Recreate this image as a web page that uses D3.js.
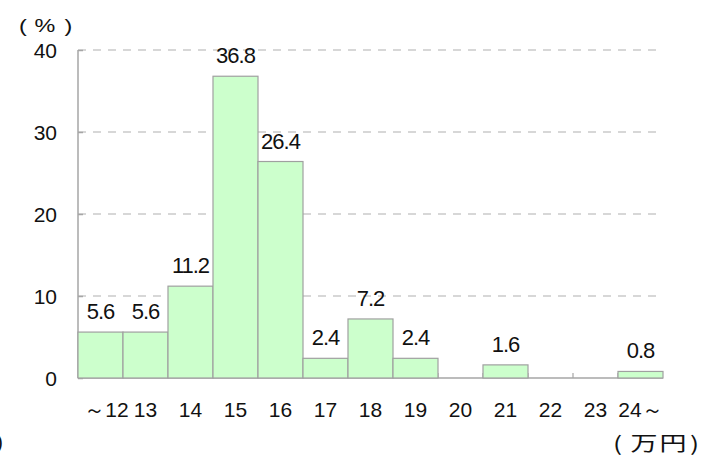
<!DOCTYPE html>
<html lang="ja">
<head>
<meta charset="UTF-8">
<title>分布</title>
<script src="https://d3js.org/d3.v7.min.js"></script>
<style>
  body { margin: 0; background: #fff; }
  svg { display: block; }
  .lbl { font-family: "Liberation Sans", Arial, sans-serif; fill: #111; }
  .cjk { font-family: "Noto Sans CJK JP", sans-serif; fill: #111; }
</style>
</head>
<body>
<div id="chart"></div>
<script>
// categories (万円) and shares (%)
const categories = ["～12", "13", "14", "15", "16", "17", "18", "19", "20", "21", "22", "23", "24～"];
const values = [5.6, 5.6, 11.2, 36.8, 26.4, 2.4, 7.2, 2.4, 0, 1.6, 0, 0, 0.8];
const yTicks = [0, 10, 20, 30, 40];

const width = 713, height = 456;
const plotL = 78, plotR = 663, plotT = 50, plotB = 378;

const svg = d3.select("#chart").append("svg")
  .attr("width", width)
  .attr("height", height);

const x = d3.scaleBand().domain(categories).range([plotL, plotR]).padding(0);
const y = d3.scaleLinear().domain([0, 40]).range([plotB, plotT]);

// dashed grid
svg.append("g")
  .selectAll("line")
  .data(yTicks.filter(d => d > 0))
  .join("line")
  .attr("x1", plotL).attr("x2", plotR)
  .attr("y1", d => y(d)).attr("y2", d => y(d))
  .attr("stroke", "#b0b0b0")
  .attr("stroke-width", 1.2)
  .attr("stroke-dasharray", "8,7");

// y axis
const yAxis = svg.append("g")
  .attr("transform", `translate(${plotL},0)`)
  .call(d3.axisRight(y).tickValues(yTicks).tickSize(5).tickFormat(""));
yAxis.select(".domain").remove();
yAxis.selectAll("line").attr("stroke", "#a6a6a6").attr("stroke-width", 1.5);
svg.append("line")
  .attr("x1", plotL).attr("x2", plotL)
  .attr("y1", y(40)).attr("y2", plotB)
  .attr("stroke", "#a6a6a6").attr("stroke-width", 1.5);

svg.append("g")
  .selectAll("text")
  .data(yTicks)
  .join("text")
  .attr("class", "lbl")
  .attr("x", 57)
  .attr("y", d => y(d) + 8)
  .attr("text-anchor", "end")
  .attr("font-size", 21)
  .text(d => d);

// x axis line with small inward ticks at band edges
svg.append("line")
  .attr("x1", plotL).attr("x2", plotR)
  .attr("y1", plotB).attr("y2", plotB)
  .attr("stroke", "#a6a6a6").attr("stroke-width", 1.5);
svg.append("g")
  .selectAll("line")
  .data(categories.slice(1))
  .join("line")
  .attr("x1", d => x(d)).attr("x2", d => x(d))
  .attr("y1", plotB).attr("y2", plotB - 5)
  .attr("stroke", "#a6a6a6").attr("stroke-width", 1.2);

const barData = values.map((v, i) => ({c: categories[i], v})).filter(d => d.v > 0);

// bars
svg.append("g")
  .selectAll("rect")
  .data(barData)
  .join("rect")
  .attr("x", d => x(d.c))
  .attr("y", d => y(d.v))
  .attr("width", x.bandwidth())
  .attr("height", d => plotB - y(d.v))
  .attr("fill", "#ccffcc")
  .attr("stroke", "#a0a0a0")
  .attr("stroke-width", 1.2);

// value labels
svg.append("g")
  .selectAll("text")
  .data(barData)
  .join("text")
  .attr("class", "lbl")
  .attr("x", d => x(d.c) + x.bandwidth() / 2)
  .attr("y", d => y(d.v) - 13)
  .attr("text-anchor", "middle")
  .attr("font-size", 22)
  .attr("letter-spacing", "-1px")
  .text(d => d.v.toFixed(1));

// category labels (first one sits a bit right of its band centre)
svg.append("g")
  .selectAll("text")
  .data(categories)
  .join("text")
  .attr("class", "lbl")
  .attr("x", (d, i) => x(d) + x.bandwidth() / 2 + (i === 0 ? 6 : 0))
  .attr("y", 417)
  .attr("text-anchor", "middle")
  .attr("font-size", 21)
  .text(d => d);

// units, drawn a little wide like the original
svg.append("text")
  .attr("class", "lbl")
  .attr("transform", "translate(19,32) scale(1.3,1)")
  .attr("x", "0 12 35")
  .attr("font-size", 18)
  .text("(%)");
svg.append("text")
  .attr("class", "cjk")
  .attr("transform", "translate(613,451) scale(1.35,1)")
  .attr("x", "0 13 34.5 57")
  .attr("font-size", 20)
  .text("(万円)");
svg.append("text")
  .attr("class", "lbl")
  .attr("x", 3).attr("y", 449)
  .attr("text-anchor", "end")
  .attr("font-size", 21)
  .text(")");
</script>
</body>
</html>
